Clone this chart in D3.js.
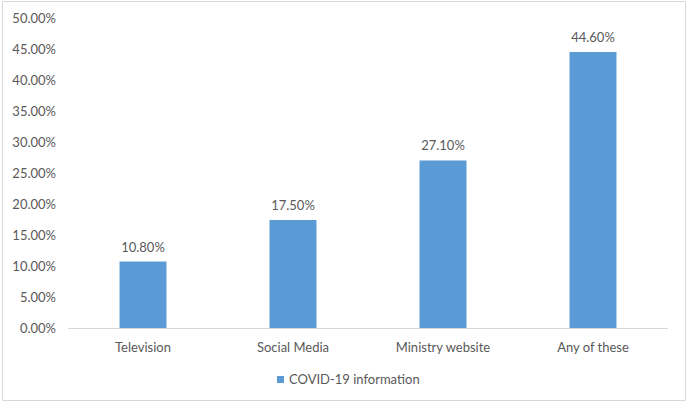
<!DOCTYPE html>
<html><head><meta charset="utf-8">
<script src="https://cdn.jsdelivr.net/npm/d3@7"></script>
<style>body{margin:0;background:#fff;}svg{display:block;font-family:Lato,"Open Sans",sans-serif;}</style>
</head><body>
<svg id="c" width="688" height="404"></svg>
<script>
const categories = ["Television", "Social Media", "Ministry website", "Any of these"];
const values = [10.8, 17.5, 27.1, 44.6];
const yTicks = [0, 5, 10, 15, 20, 25, 30, 35, 40, 45, 50];
const seriesName = "COVID-19 information";

const svg = d3.select("#c");
const color = "#5B9BD5", textColor = "#595959";
svg.append("rect").attr("x", 2.5).attr("y", 1.5).attr("width", 683).attr("height", 399)
  .attr("fill", "#fff").attr("stroke", "#d9d9d9");

const x = d3.scaleBand().domain(categories).range([68, 668]).paddingInner(0.687).paddingOuter(0.3435);
const y = d3.scaleLinear().domain([0, 50]).range([328.5, 18.5]);

const yAxis = svg.append("g").attr("transform", "translate(56,0)")
  .call(d3.axisLeft(y).tickValues(yTicks).tickSize(0).tickPadding(0).tickFormat(d => d.toFixed(2) + "%"));
yAxis.select(".domain").remove();
yAxis.selectAll("text").attr("fill", textColor).attr("font-size", 13).attr("font-family", "Lato");

svg.selectAll(".bar").data(values).join("rect")
  .attr("x", (d, i) => x(categories[i])).attr("width", x.bandwidth())
  .attr("y", d => y(d)).attr("height", d => y(0) - y(d)).attr("fill", color);

svg.append("line").attr("x1", 68).attr("x2", 668).attr("y1", y(0)).attr("y2", y(0))
  .attr("stroke", "#d9d9d9").attr("stroke-width", 1);

svg.selectAll(".lbl").data(values).join("text")
  .attr("x", (d, i) => x(categories[i]) + x.bandwidth() / 2).attr("y", d => y(d) - 10)
  .attr("text-anchor", "middle").attr("fill", textColor).attr("font-size", 13)
  .text(d => d.toFixed(2) + "%");

const xAxis = svg.append("g").attr("transform", `translate(0,${y(0)})`)
  .call(d3.axisBottom(x).tickSize(0).tickPadding(14));
xAxis.select(".domain").remove();
xAxis.selectAll("text").attr("fill", textColor).attr("font-size", 13).attr("font-family", "Lato");

const lg = svg.append("g");
lg.append("rect").attr("x", 277).attr("y", 376).attr("width", 7).attr("height", 7).attr("fill", color);
lg.append("text").attr("x", 289).attr("y", 379.5).attr("dy", "0.35em").attr("fill", textColor)
  .attr("font-size", 13).text(seriesName);
</script>
</body></html>
